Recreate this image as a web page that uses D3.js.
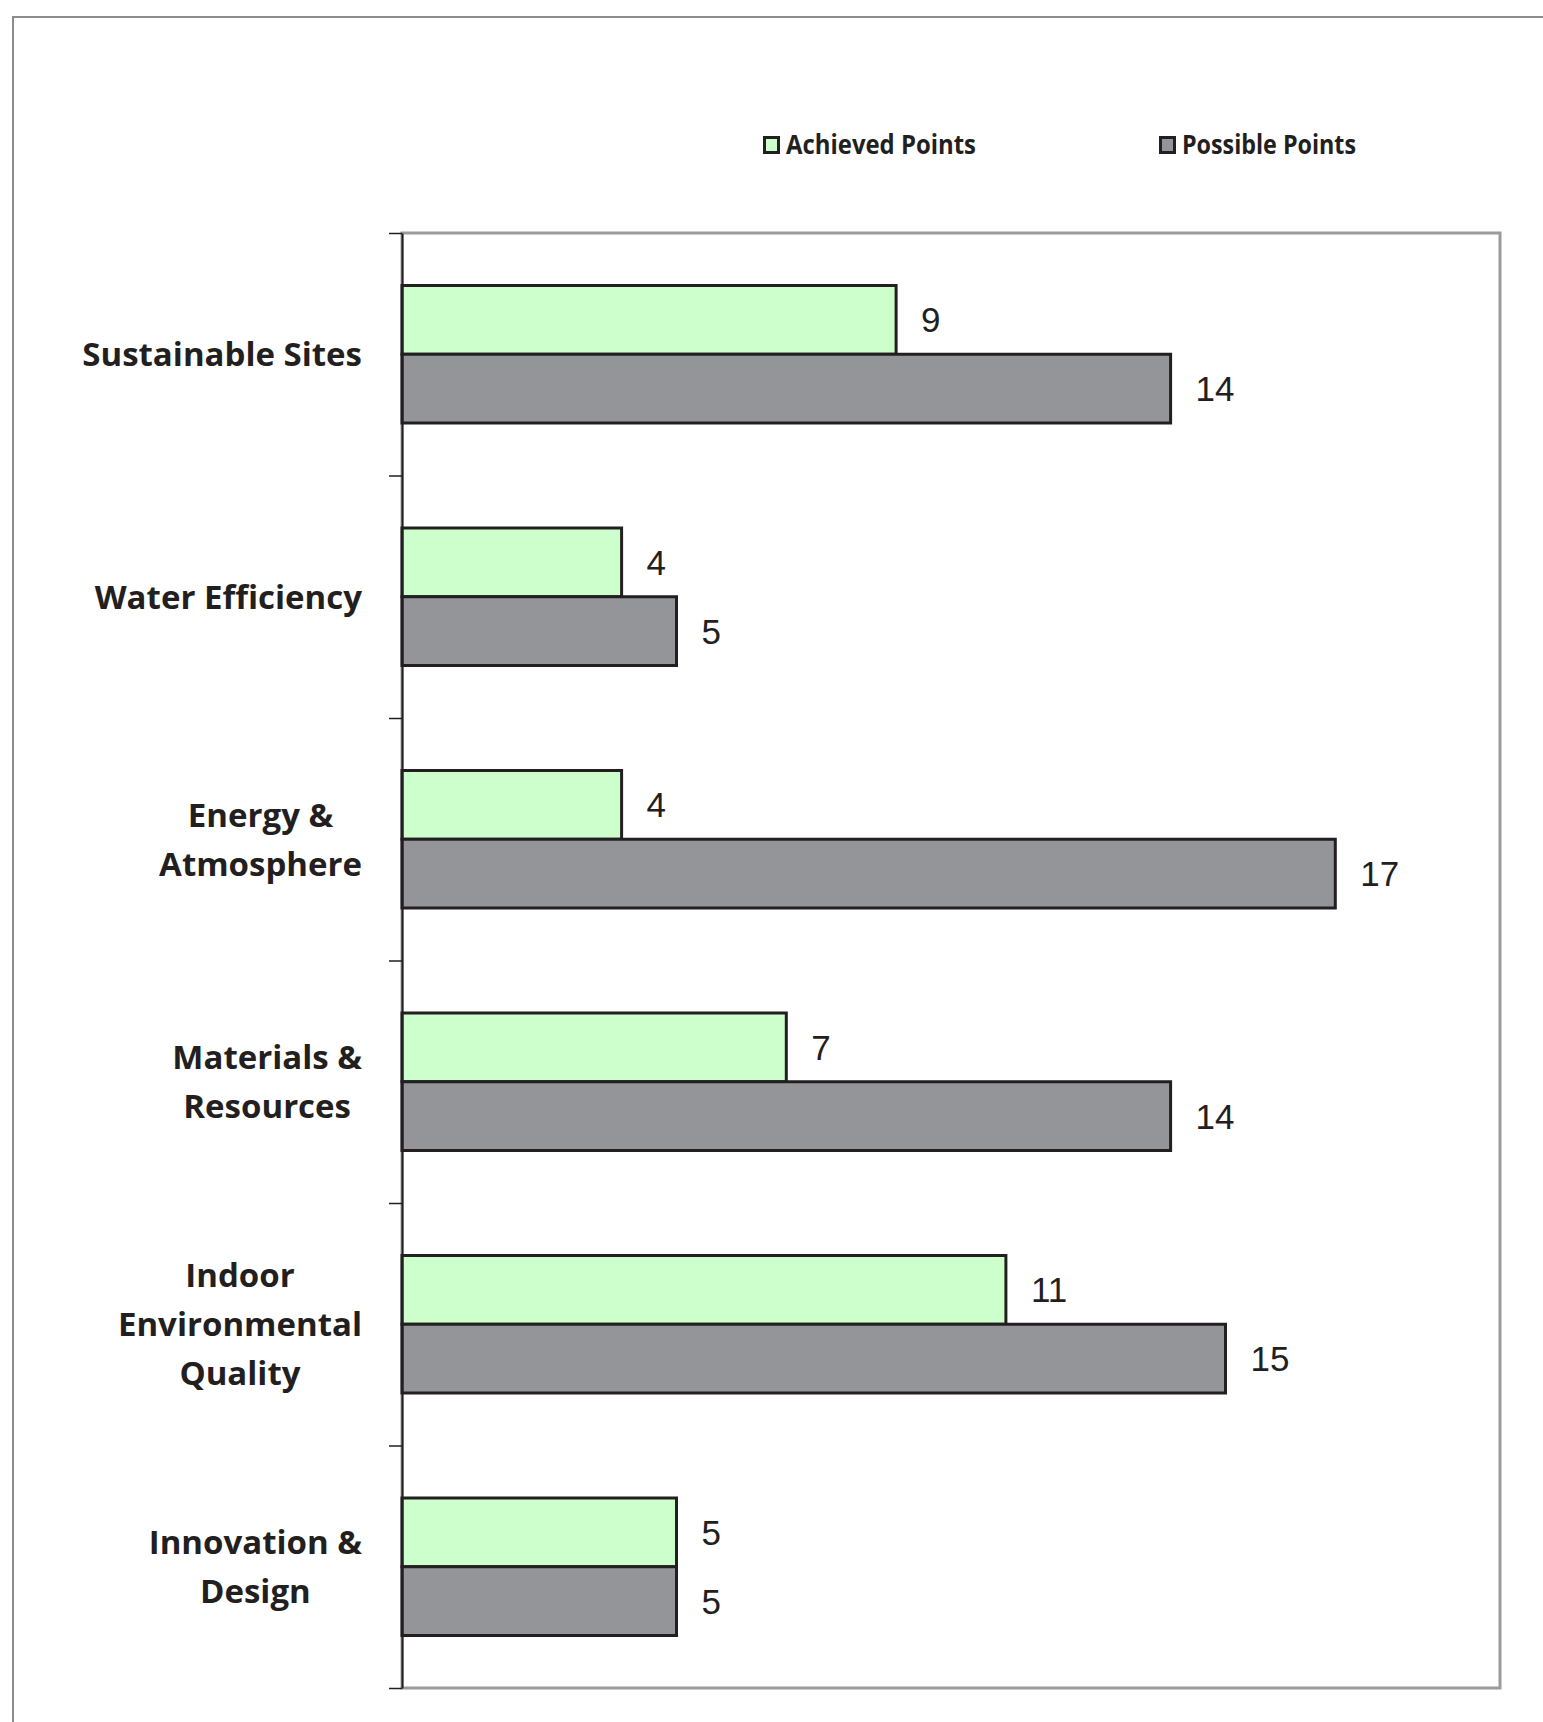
<!DOCTYPE html>
<html>
<head>
<meta charset="utf-8">
<script src="https://cdn.jsdelivr.net/npm/d3@7"></script>
<style>
  body { margin: 0; background: #fff; }
</style>
</head>
<body>
<script>
(function(){

	var categories = ["Sustainable Sites", "Water Efficiency", "Energy & Atmosphere", "Materials & Resources", "Indoor Environmental Quality", "Innovation & Design"];
	var labelLines = [["Sustainable Sites"], ["Water Efficiency"], ["Energy &", "Atmosphere"], ["Materials &", "Resources"], ["Indoor", "Environmental", "Quality"], ["Innovation &", "Design"]];
	var seriesNames = ["Achieved Points", "Possible Points"];
	var achieved = [9, 4, 4, 7, 11, 5];
	var possible = [14, 5, 17, 14, 15, 5];

	const WIDTH = 1543;
	const HEIGHT = 1722;
	const PLOT = { left: 402, right: 1500, top: 233, bottom: 1688 };
	const COLORS = ["#ccffcc", "#939598"];
	const DARK = "#231f20";
	const LABEL_RIGHT = 362;
	const LINE_H = 49;

	var svg = d3.select("body").append("svg")
		.attr("width", WIDTH).attr("height", HEIGHT);

	// outer frame
	svg.append("rect")
		.attr("x", 13).attr("y", 17).attr("width", WIDTH).attr("height", HEIGHT)
		.attr("fill", "none").attr("stroke", "#8c8c8c").attr("stroke-width", 2);

	var y = d3.scaleBand().domain(categories)
		.range([PLOT.top, PLOT.bottom])
		.paddingInner(0.433).paddingOuter(0.2165);
	var ySeries = d3.scaleBand().domain([0, 1]).range([0, y.bandwidth()]);
	var x = d3.scaleLinear().domain([0, 20]).range([PLOT.left, PLOT.right]);

	// plot area border
	svg.append("rect")
		.attr("x", PLOT.left).attr("y", PLOT.top)
		.attr("width", PLOT.right - PLOT.left).attr("height", PLOT.bottom - PLOT.top)
		.attr("fill", "none").attr("stroke", "#9a9b9d").attr("stroke-width", 3);

	var rows = categories.map(function(c, i){
		return { cat: c, vals: [achieved[i], possible[i]] };
	});

	var groups = svg.selectAll("g.cat").data(rows).enter().append("g")
		.attr("class", "cat")
		.attr("transform", function(d){ return "translate(0," + y(d.cat) + ")"; });

	groups.selectAll("rect").data(function(d){ return d.vals; }).enter().append("rect")
		.attr("x", x(0))
		.attr("y", function(d, i){ return ySeries(i); })
		.attr("width", function(d){ return x(d) - x(0); })
		.attr("height", ySeries.bandwidth())
		.attr("fill", function(d, i){ return COLORS[i]; })
		.attr("stroke", DARK).attr("stroke-width", 3);

	groups.selectAll("text.val").data(function(d){ return d.vals; }).enter().append("text")
		.attr("class", "val")
		.attr("x", function(d){ return x(d) + 25; })
		.attr("y", function(d, i){ return ySeries(i) + ySeries.bandwidth() / 2; })
		.attr("dy", "0.36em")
		.style("font-family", "Arial, 'Liberation Sans', sans-serif")
		.style("font-size", "35px")
		.attr("fill", DARK)
		.text(function(d){ return d; });

	// left axis with ticks on category boundaries
	var yTicks = d3.scaleLinear().domain([0, categories.length]).range([PLOT.top, PLOT.bottom]);
	var axis = svg.append("g")
		.attr("transform", "translate(" + PLOT.left + ",0)")
		.call(d3.axisLeft(yTicks).ticks(categories.length).tickSize(13).tickFormat("").tickSizeOuter(0));
	axis.select(".domain").attr("stroke", DARK).attr("stroke-width", 2);
	axis.selectAll(".tick line").attr("stroke", DARK).attr("stroke-width", 1.5);

	// category labels: centered lines, block right aligned
	labelLines.forEach(function(lines, i){
		var cy = y(categories[i]) + y.bandwidth() / 2;
		var g = svg.append("g");
		var texts = g.selectAll("text").data(lines).enter().append("text")
			.attr("y", function(d, j){ return cy + (j - (lines.length - 1) / 2) * LINE_H; })
			.attr("dy", "0.36em")
			.attr("text-anchor", "middle")
			.style("font-family", "'Open Sans', sans-serif")
			.style("font-weight", "bold")
			.style("font-size", "33px")
			.attr("fill", DARK)
			.text(function(d){ return d; });
		var w = d3.max(texts.nodes(), function(n){ return n.getComputedTextLength(); });
		texts.attr("x", LABEL_RIGHT - w / 2);
	});

	// legend
	var legendX = [763, 1159];
	var legendW = [190, 174];
	var legend = svg.selectAll("g.legend").data(seriesNames).enter().append("g")
		.attr("class", "legend")
		.attr("transform", function(d, i){ return "translate(" + legendX[i] + ",136)"; });
	legend.append("rect")
		.attr("x", 1.5).attr("y", 1.5).attr("width", 14).attr("height", 15)
		.attr("fill", function(d, i){ return COLORS[i]; })
		.attr("stroke", DARK).attr("stroke-width", 3);
	legend.append("text")
		.attr("x", 23).attr("y", 18)
		.attr("textLength", function(d, i){ return legendW[i]; })
		.attr("lengthAdjust", "spacingAndGlyphs")
		.style("font-family", "'Open Sans', sans-serif")
		.style("font-weight", "bold")
		.style("font-size", "26px")
		.attr("fill", DARK)
		.text(function(d){ return d; });

})();
</script>
</body>
</html>
